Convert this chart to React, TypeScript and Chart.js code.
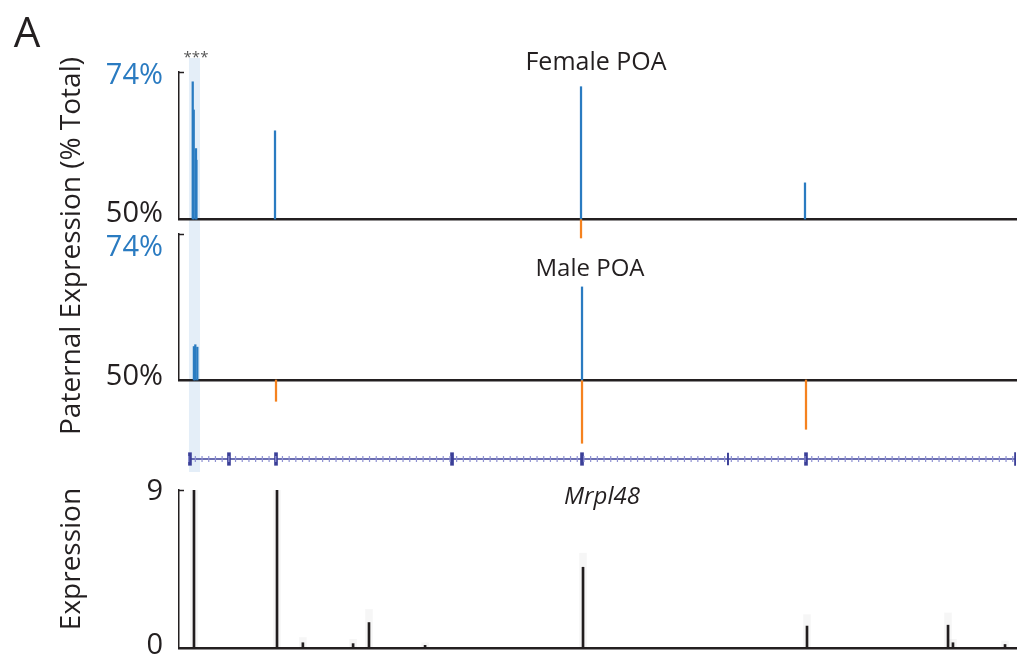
import React, { useEffect, useRef } from "react";
import { Chart, registerables } from "chart.js";

Chart.register(...registerables);

const FONT = "'Open Sans', 'Noto Sans', sans-serif";
const BLUE = "#2a7bc1";
const ORANGE = "#f5821f";
const INK = "#231f20";
const BAND = "#e4eef8";
const GENE = "#3b3f98";
const HATCH = "#8f92d2";

// Relative position along the Mrpl48 locus (0–1000)
const X_MIN = 0;
const X_MAX = 1000;
const highlightRange = [11.9, 25.1];

// Paternal expression (% of total), baseline 50%
const BASELINE = 50;
const pctTicks = [50, 74];

const femaleBluePos = [16.4, 17.6, 20.3, 20.8, 114.7, 480.3, 747.9];
const femaleBlueVal = [72.4, 67.8, 61.5, 59.6, 64.4, 71.6, 55.9];
const femaleOrangePos = [480.3];
const femaleOrangeVal = [46.9];

const maleBluePos = [17.8, 19.5, 21.9, 481.5];
const maleBlueVal = [55.5, 55.8, 55.4, 65.3];
const maleOrangePos = [115.9, 481.5, 749.1];
const maleOrangeVal = [46.5, 39.6, 41.9];

// Gene model
const geneStart = 10.8;
const geneEnd = 1001;
const exonPos = [13.1, 59.7, 115.9, 326.2, 481.5, 749.1, 1000];
const thinExonPos = [655.9];

// Expression (read coverage)
const exprTicks = [0, 9];
const exprPos = [17.9, 117.1, 148, 208, 227, 294, 482.7, 750.3, 918.8, 924.7, 986.9];
const exprVal = [9, 9, 0.3, 0.25, 1.45, 0.15, 4.6, 1.25, 1.3, 0.3, 0.2];
const exprHalo = [9, 9, 0.6, 0.5, 2.2, 0.3, 5.4, 1.9, 2.0, 0.5, 0.4];

const bandPlugin = {
  id: "band",
  beforeDraw(chart: any) {
    const xs = chart.scales.x;
    const a = xs.getPixelForValue(highlightRange[0]);
    const b = xs.getPixelForValue(highlightRange[1]);
    const ctx = chart.ctx;
    ctx.save();
    ctx.fillStyle = BAND;
    ctx.fillRect(a, 0, b - a, chart.height);
    ctx.restore();
  },
};

const capPlugin = {
  id: "cap",
  afterDraw(chart: any) {
    const ys = chart.scales.y;
    const yTop = ys.getPixelForValue(ys.max);
    const x = chart.chartArea.left;
    const ctx = chart.ctx;
    ctx.save();
    ctx.strokeStyle = INK;
    ctx.lineWidth = 1.5;
    ctx.beginPath();
    ctx.moveTo(x - 0.5, yTop + 0.5);
    ctx.lineTo(x + 5, yTop + 0.5);
    ctx.stroke();
    ctx.restore();
  },
};

const baseXScale = () => ({
  type: "linear",
  min: X_MIN,
  max: X_MAX,
  offset: false,
  grid: { display: false, drawTicks: false },
  ticks: { display: false },
  border: { display: true, color: INK, width: 2.5 },
  afterFit: (s: any) => {
    s.height = 0;
    s.paddingLeft = 0;
    s.paddingRight = 0;
  },
});

// shiftTop / shiftBottom: vertical nudge (px) of the top / bottom tick labels
const yScale = (
  min: number,
  max: number,
  ticks: number[],
  fmt: (v: number) => string,
  shiftTop: number,
  shiftBottom: number
) => ({
  min,
  max,
  grid: { display: false, drawTicks: false },
  border: { display: true, color: INK, width: 1.5 },
  afterBuildTicks: (s: any) => {
    s.ticks = ticks.map((v) => ({ value: v }));
  },
  afterFit: (s: any) => {
    s.width = 179;
    s.paddingTop = 0;
    s.paddingBottom = 0;
  },
  ticks: {
    padding: 16,
    color: (c: any) => (c.tick && c.tick.value === 74 ? BLUE : INK),
    font: (c: any) => {
      const isTop = c.tick && c.tick.value === max;
      const shift = Math.abs(isTop ? shiftTop : shiftBottom);
      return { family: FONT, size: 29, lineHeight: `${Math.max(shift * 2, 0.1)}px` };
    },
    callback: (v: any) => {
      const n = Number(v);
      return n === max ? ["", fmt(n)] : [fmt(n), ""];
    },
  },
});

function pctConfig(
  bluePos: number[],
  blueVal: number[],
  orangePos: number[],
  orangeVal: number[],
  padTop: number,
  padBottom: number,
  shiftTop: number,
  shiftBottom: number
): any {
  return {
    type: "bar",
    data: {
      datasets: [
        {
          data: bluePos.map((x, i) => ({ x, y: [BASELINE, blueVal[i]] })),
          backgroundColor: BLUE,
          barThickness: 1.6,
          grouped: false,
          clip: false,
        },
        {
          data: orangePos.map((x, i) => ({ x, y: [BASELINE, orangeVal[i]] })),
          backgroundColor: ORANGE,
          barThickness: 1.6,
          grouped: false,
          clip: false,
        },
      ],
    },
    options: {
      animation: false,
      responsive: false,
      maintainAspectRatio: false,
      layout: { padding: { top: padTop, bottom: padBottom, left: 0, right: 4 } },
      plugins: { legend: { display: false }, tooltip: { enabled: false } },
      scales: {
        x: baseXScale(),
        y: yScale(50, 74, pctTicks, (v) => `${v}%`, shiftTop, shiftBottom),
      },
    },
    plugins: [bandPlugin, capPlugin],
  };
}

function geneConfig(): any {
  return {
    type: "bar",
    data: {
      datasets: [
        {
          type: "line",
          data: [
            { x: geneStart, y: 0 },
            { x: geneEnd, y: 0 },
          ],
          borderColor: HATCH,
          borderWidth: 6,
          borderDash: [1.2, 5.5],
          pointRadius: 0,
        },
        {
          type: "line",
          data: [
            { x: geneStart, y: 0 },
            { x: geneEnd, y: 0 },
          ],
          borderColor: GENE,
          borderWidth: 1.6,
          pointRadius: 0,
        },
        {
          data: exonPos.map((x) => ({ x, y: [-0.7, 0.7] })),
          backgroundColor: GENE,
          barThickness: 3,
          grouped: false,
        },
        {
          data: thinExonPos.map((x) => ({ x, y: [-0.65, 0.65] })),
          backgroundColor: GENE,
          barThickness: 1.3,
          grouped: false,
        },
      ],
    },
    options: {
      animation: false,
      responsive: false,
      maintainAspectRatio: false,
      layout: { padding: { top: 5, bottom: 4, left: 179, right: 4 } },
      plugins: { legend: { display: false }, tooltip: { enabled: false } },
      scales: {
        x: { type: "linear", min: X_MIN, max: X_MAX, offset: false, display: false },
        y: { min: -1, max: 1, display: false },
      },
    },
    plugins: [bandPlugin],
  };
}

function exprConfig(): any {
  return {
    type: "bar",
    data: {
      datasets: [
        {
          data: exprPos.map((x, i) => ({ x, y: exprHalo[i] })),
          backgroundColor: "rgba(0,0,0,0.035)",
          barThickness: 7,
          grouped: false,
        },
        {
          data: exprPos.map((x, i) => ({ x, y: exprVal[i] })),
          backgroundColor: INK,
          barThickness: 2,
          grouped: false,
        },
      ],
    },
    options: {
      animation: false,
      responsive: false,
      maintainAspectRatio: false,
      layout: { padding: { top: 18, bottom: 14, left: 0, right: 4 } },
      plugins: { legend: { display: false }, tooltip: { enabled: false } },
      scales: {
        x: baseXScale(),
        y: yScale(0, 9, exprTicks, (v) => `${v}`, 2, -2),
      },
    },
    plugins: [capPlugin],
  };
}

function ChartCanvas({ top, height, build }: { top: number; height: number; build: () => any }) {
  const ref = useRef<HTMLCanvasElement | null>(null);
  useEffect(() => {
    if (!ref.current) return;
    const chart = new Chart(ref.current, build());
    return () => chart.destroy();
  }, []);
  return (
    <canvas
      ref={ref}
      width={1020}
      height={height}
      style={{ position: "absolute", left: 0, top, width: 1020, height }}
    />
  );
}

function Label({
  text,
  x,
  y,
  size,
  rotate = false,
  style = {},
}: {
  text: string;
  x: number;
  y: number;
  size: number;
  rotate?: boolean;
  style?: any;
}) {
  return (
    <div
      style={{
        position: "absolute",
        left: x,
        top: y,
        transform: `translate(-50%, -50%)${rotate ? " rotate(-90deg)" : ""}`,
        fontFamily: FONT,
        fontSize: size,
        lineHeight: 1,
        whiteSpace: "nowrap",
        color: INK,
        ...style,
      }}
    >
      {text}
    </div>
  );
}

export default function App() {
  return (
    <div
      style={{
        position: "absolute",
        left: 0,
        top: 0,
        width: 1020,
        height: 662,
        background: "#ffffff",
        overflow: "hidden",
      }}
    >
      <ChartCanvas
        top={58}
        height={187}
        build={() =>
          pctConfig(femaleBluePos, femaleBlueVal, femaleOrangePos, femaleOrangeVal, 14, 26, 4, -5)
        }
      />
      <ChartCanvas
        top={228}
        height={222}
        build={() =>
          pctConfig(maleBluePos, maleBlueVal, maleOrangePos, maleOrangeVal, 6, 70, 14, -3)
        }
      />
      <ChartCanvas top={445} height={27} build={geneConfig} />
      <ChartCanvas top={472} height={190} build={exprConfig} />

      <Label text="A" x={27} y={31} size={42} />
      <Label text="***" x={196} y={56} size={15} style={{ color: "#555" }} />
      <Label text="Female POA" x={596} y={60} size={25} />
      <Label text="Male POA" x={590} y={267} size={24} />
      <Label text="Mrpl48" x={602} y={495} size={24} style={{ fontStyle: "italic" }} />
      <Label text="Paternal Expression (% Total)" x={69} y={246} size={28} rotate />
      <Label text="Expression" x={69} y={559} size={28} rotate />
    </div>
  );
}
